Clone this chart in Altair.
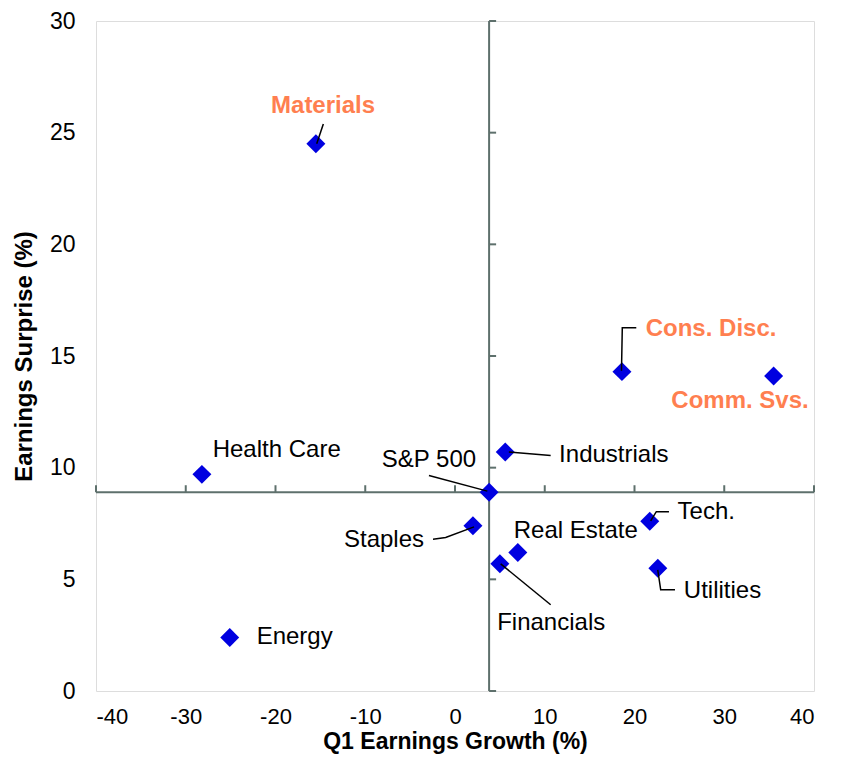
import altair as alt
import pandas as pd

# ---- data ----
sectors = ["Materials", "Cons. Disc.", "Comm. Svs.", "Health Care", "Energy",
           "Industrials", "S&P 500", "Staples", "Real Estate", "Financials",
           "Tech.", "Utilities"]
growth = [-15.5, 18.6, 35.5, -28.2, -25.1, 5.6, 3.8, 2.0, 7.0, 5.0, 21.7, 22.6]
surprise = [24.5, 14.3, 14.1, 9.7, 2.4, 10.7, 8.9, 7.4, 6.2, 5.7, 7.6, 5.5]
highlight = [True, True, True, False, False, False, False, False, False, False, False, False]

x_ticks = [-40, -30, -20, -10, 0, 10, 20, 30, 40]
y_ticks = [0, 5, 10, 15, 20, 25, 30]

# label anchors (data units) and alignment
label_x = [-14.7, 21.25, 24.1, -27.0, -22.1, 11.6, -2.9, -3.45, 6.55, 4.7, 24.8, 25.5]
label_y = [26.2, 16.2, 13.0, 10.8, 2.4, 10.55, 10.35, 6.75, 7.15, 3.05, 8.0, 4.5]
label_align = ["center", "left", "left", "left", "left", "left", "center", "right",
               "left", "left", "left", "left"]

# leader lines (polylines in data units)
leaders = {
    "Materials": [(-14.67, 25.39), (-15.41, 24.5)],
    "Cons. Disc.": [(18.55, 14.34), (18.64, 16.26), (20.2, 16.26)],
    "Industrials": [(6.0, 10.7), (10.66, 10.54)],
    "S&P 500": [(-2.9, 9.65), (3.6, 8.95)],
    "Staples": [(-2.45, 6.8), (-1.04, 6.87), (2.12, 7.35)],
    "Financials": [(10.66, 3.86), (5.09, 5.69)],
    "Tech.": [(21.8, 7.62), (22.43, 8.03), (23.84, 8.03)],
    "Utilities": [(22.59, 5.42), (22.92, 4.53), (24.51, 4.53)],
}

cross_x = growth[sectors.index("S&P 500")]
cross_y = surprise[sectors.index("S&P 500")]

FONT = "Liberation Sans"
AXIS_COL = "#5E706C"
ORANGE = "#FF7F50"
BLUE = "#0000E0"

pts = pd.DataFrame({"sector": sectors, "g": growth, "s": surprise, "hl": highlight,
                    "lx": label_x, "ly": label_y, "al": label_align})
lead_rows = []
for name, pl in leaders.items():
    for i, (a, b) in enumerate(pl):
        lead_rows.append({"id": name, "o": i, "x": a, "y": b})
lead = pd.DataFrame(lead_rows)

xs = alt.Scale(domain=[-40, 40], nice=False, zero=False)
ys = alt.Scale(domain=[0, 30], nice=False, zero=False)

base = alt.Chart(pts)

# invisible layer that carries the outer axes (labels + titles)
axes_layer = base.mark_point(opacity=0).encode(
    x=alt.X("g:Q", scale=xs, title="Q1 Earnings Growth (%)",
            axis=alt.Axis(values=x_ticks, domain=False, ticks=False, grid=False,
                          labelExpr="toString(datum.value)",
                          labelFont=FONT, labelFontSize=22, labelColor="black",
                          labelPadding=15, titleFont=FONT, titleFontSize=23,
                          titleFontWeight="bold", titleColor="black", titlePadding=3)),
    y=alt.Y("s:Q", scale=ys, title="Earnings Surprise (%)",
            axis=alt.Axis(values=y_ticks, domain=False, ticks=False, grid=False,
                          labelFont=FONT, labelFontSize=23, labelColor="black",
                          labelPadding=21, titleFont=FONT, titleFontSize=24,
                          titleFontWeight="bold", titleColor="black", titlePadding=13)),
)

vline = alt.Chart(pd.DataFrame({"x": [cross_x], "y": [0], "y2": [30]})).mark_rule(
    color=AXIS_COL, strokeWidth=2).encode(
    x=alt.X("x:Q", scale=xs), y=alt.Y("y:Q", scale=ys), y2="y2:Q")
hline = alt.Chart(pd.DataFrame({"y": [cross_y], "x": [-40], "x2": [40]})).mark_rule(
    color=AXIS_COL, strokeWidth=2).encode(
    y=alt.Y("y:Q", scale=ys), x=alt.X("x:Q", scale=xs), x2="x2:Q")

xt = alt.Chart(pd.DataFrame({"v": x_ticks, "c": [cross_y] * len(x_ticks)})).mark_rule(
    color=AXIS_COL, strokeWidth=2, y2Offset=-7).encode(
    x=alt.X("v:Q", scale=xs), y=alt.Y("c:Q", scale=ys), y2="c:Q")
yt = alt.Chart(pd.DataFrame({"v": y_ticks, "c": [cross_x] * len(y_ticks)})).mark_rule(
    color=AXIS_COL, strokeWidth=2, x2Offset=7).encode(
    y=alt.Y("v:Q", scale=ys), x=alt.X("c:Q", scale=xs), x2="c:Q")

points = base.mark_point(shape="diamond", filled=True, size=360, color=BLUE,
                         opacity=1, strokeWidth=0).encode(
    x=alt.X("g:Q", scale=xs), y=alt.Y("s:Q", scale=ys))

leader_lines = alt.Chart(lead).mark_line(color="black", strokeWidth=1.5).encode(
    x=alt.X("x:Q", scale=xs), y=alt.Y("y:Q", scale=ys), detail="id:N", order="o:Q")

text_layers = []
for al in ["left", "center", "right"]:
    for hl in [False, True]:
        kw = dict(font=FONT, fontSize=24, align=al, baseline="middle",
                  color=ORANGE if hl else "black",
                  fontWeight="bold" if hl else "normal")
        t = base.transform_filter(
            (alt.datum.al == al) & (alt.datum.hl == hl)
        ).mark_text(**kw).encode(
            x=alt.X("lx:Q", scale=xs), y=alt.Y("ly:Q", scale=ys), text="sector:N")
        text_layers.append(t)

chart = alt.layer(axes_layer, vline, hline, xt, yt, points, leader_lines, *text_layers).properties(
    width=718, height=670,
    autosize=alt.AutoSizeParams(type="none"),
    padding={"left": 88, "top": 13, "right": 20, "bottom": 67},
).configure_view(stroke=None).configure(background="white")

chart.save("out.html", embed_options={"renderer": "svg", "actions": False})
